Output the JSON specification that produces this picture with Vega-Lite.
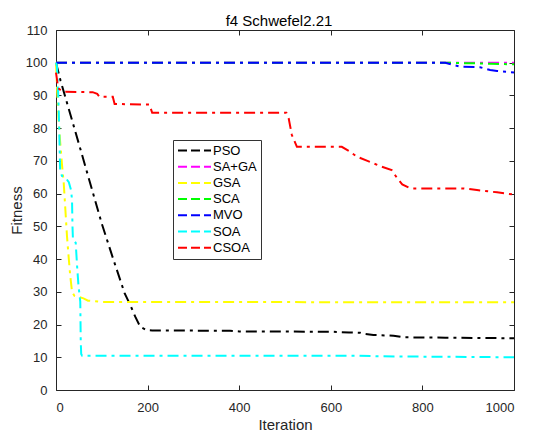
{
  "$schema": "https://vega.github.io/schema/vega-lite/v6.json",
  "width": 458,
  "height": 360,
  "autosize": {"type": "none"},
  "padding": {"left": 56, "top": 30, "right": 20, "bottom": 47},
  "background": "white",
  "title": {
    "text": "f4 Schwefel2.21",
    "font": "Liberation Sans",
    "fontSize": 15,
    "fontWeight": "normal",
    "color": "#000000",
    "anchor": "middle",
    "baseline": "alphabetic",
    "offset": 5,
    "dy": 22,
    "dx": -6
  },
  "data": {
    "values": [
      {"alg": "PSO", "iter": 0, "fit": 100},
      {"alg": "PSO", "iter": 10, "fit": 94.5},
      {"alg": "PSO", "iter": 50, "fit": 75.2},
      {"alg": "PSO", "iter": 100, "fit": 50.8},
      {"alg": "PSO", "iter": 125, "fit": 40},
      {"alg": "PSO", "iter": 150, "fit": 29.5},
      {"alg": "PSO", "iter": 162, "fit": 26},
      {"alg": "PSO", "iter": 173, "fit": 22.4},
      {"alg": "PSO", "iter": 184, "fit": 19.3},
      {"alg": "PSO", "iter": 198, "fit": 18.3},
      {"alg": "PSO", "iter": 210, "fit": 18.2},
      {"alg": "PSO", "iter": 380, "fit": 18.1},
      {"alg": "PSO", "iter": 400, "fit": 17.9},
      {"alg": "PSO", "iter": 600, "fit": 17.8},
      {"alg": "PSO", "iter": 640, "fit": 17.6},
      {"alg": "PSO", "iter": 664, "fit": 17.5},
      {"alg": "PSO", "iter": 675, "fit": 17.1},
      {"alg": "PSO", "iter": 693, "fit": 16.8},
      {"alg": "PSO", "iter": 737, "fit": 16.6},
      {"alg": "PSO", "iter": 759, "fit": 16.1},
      {"alg": "PSO", "iter": 850, "fit": 16.0},
      {"alg": "PSO", "iter": 1000, "fit": 15.8},

      {"alg": "SA+GA", "iter": 0, "fit": 100},
      {"alg": "SA+GA", "iter": 1000, "fit": 100},

      {"alg": "GSA", "iter": 0, "fit": 100},
      {"alg": "GSA", "iter": 3, "fit": 90},
      {"alg": "GSA", "iter": 6, "fit": 82},
      {"alg": "GSA", "iter": 9, "fit": 76},
      {"alg": "GSA", "iter": 13, "fit": 69},
      {"alg": "GSA", "iter": 17, "fit": 63},
      {"alg": "GSA", "iter": 24, "fit": 47},
      {"alg": "GSA", "iter": 28, "fit": 40},
      {"alg": "GSA", "iter": 31, "fit": 35},
      {"alg": "GSA", "iter": 35, "fit": 30},
      {"alg": "GSA", "iter": 40, "fit": 28.8},
      {"alg": "GSA", "iter": 60, "fit": 28},
      {"alg": "GSA", "iter": 70, "fit": 27.3},
      {"alg": "GSA", "iter": 100, "fit": 26.9},
      {"alg": "GSA", "iter": 1000, "fit": 26.8},

      {"alg": "SCA", "iter": 0, "fit": 100},
      {"alg": "SCA", "iter": 850, "fit": 100},
      {"alg": "SCA", "iter": 950, "fit": 99.7},
      {"alg": "SCA", "iter": 1000, "fit": 99.5},

      {"alg": "MVO", "iter": 0, "fit": 100},
      {"alg": "MVO", "iter": 850, "fit": 100},
      {"alg": "MVO", "iter": 870, "fit": 99.2},
      {"alg": "MVO", "iter": 883, "fit": 98.8},
      {"alg": "MVO", "iter": 926, "fit": 98.6},
      {"alg": "MVO", "iter": 948, "fit": 97.8},
      {"alg": "MVO", "iter": 963, "fit": 97.5},
      {"alg": "MVO", "iter": 1000, "fit": 97.0},

      {"alg": "SOA", "iter": 0, "fit": 100},
      {"alg": "SOA", "iter": 2, "fit": 99},
      {"alg": "SOA", "iter": 5, "fit": 90},
      {"alg": "SOA", "iter": 7, "fit": 80},
      {"alg": "SOA", "iter": 9, "fit": 67},
      {"alg": "SOA", "iter": 13, "fit": 65.4},
      {"alg": "SOA", "iter": 20, "fit": 65},
      {"alg": "SOA", "iter": 28, "fit": 63.5},
      {"alg": "SOA", "iter": 33, "fit": 61},
      {"alg": "SOA", "iter": 35, "fit": 58},
      {"alg": "SOA", "iter": 36, "fit": 50},
      {"alg": "SOA", "iter": 37, "fit": 46},
      {"alg": "SOA", "iter": 43, "fit": 45},
      {"alg": "SOA", "iter": 46, "fit": 38},
      {"alg": "SOA", "iter": 49, "fit": 32},
      {"alg": "SOA", "iter": 53, "fit": 27},
      {"alg": "SOA", "iter": 54, "fit": 15},
      {"alg": "SOA", "iter": 55, "fit": 11},
      {"alg": "SOA", "iter": 57, "fit": 10.5},
      {"alg": "SOA", "iter": 660, "fit": 10.5},
      {"alg": "SOA", "iter": 700, "fit": 10.3},
      {"alg": "SOA", "iter": 1000, "fit": 10.0},

      {"alg": "CSOA", "iter": 0, "fit": 97},
      {"alg": "CSOA", "iter": 3, "fit": 94},
      {"alg": "CSOA", "iter": 5, "fit": 92.2},
      {"alg": "CSOA", "iter": 13, "fit": 91.3},
      {"alg": "CSOA", "iter": 20, "fit": 91.1},
      {"alg": "CSOA", "iter": 80, "fit": 91.0},
      {"alg": "CSOA", "iter": 90, "fit": 90.5},
      {"alg": "CSOA", "iter": 95, "fit": 89.6},
      {"alg": "CSOA", "iter": 124, "fit": 89.6},
      {"alg": "CSOA", "iter": 128, "fit": 87.4},
      {"alg": "CSOA", "iter": 204, "fit": 87.2},
      {"alg": "CSOA", "iter": 210, "fit": 84.7},
      {"alg": "CSOA", "iter": 503, "fit": 84.7},
      {"alg": "CSOA", "iter": 508, "fit": 83},
      {"alg": "CSOA", "iter": 515, "fit": 77.9},
      {"alg": "CSOA", "iter": 526, "fit": 74.3},
      {"alg": "CSOA", "iter": 624, "fit": 74.3},
      {"alg": "CSOA", "iter": 640, "fit": 73},
      {"alg": "CSOA", "iter": 657, "fit": 71.3},
      {"alg": "CSOA", "iter": 680, "fit": 70},
      {"alg": "CSOA", "iter": 708, "fit": 68.4},
      {"alg": "CSOA", "iter": 733, "fit": 67.2},
      {"alg": "CSOA", "iter": 745, "fit": 64.7},
      {"alg": "CSOA", "iter": 756, "fit": 62.8},
      {"alg": "CSOA", "iter": 770, "fit": 61.9},
      {"alg": "CSOA", "iter": 780, "fit": 61.6},
      {"alg": "CSOA", "iter": 890, "fit": 61.6},
      {"alg": "CSOA", "iter": 919, "fit": 61.1},
      {"alg": "CSOA", "iter": 963, "fit": 60.4},
      {"alg": "CSOA", "iter": 1000, "fit": 59.7}
    ]
  },
  "layer": [
    {
      "encoding": {
        "x": {
          "field": "iter",
          "type": "quantitative",
          "scale": {"domain": [0, 1000], "nice": false, "zero": false},
          "axis": {
            "title": "Iteration",
            "orient": "bottom",
            "values": [0, 200, 400, 600, 800, 1000],
            "format": "d",
            "tickSize": -5,
            "labelPadding": 16,
            "titlePadding": 3
          }
        },
        "y": {
          "field": "fit",
          "type": "quantitative",
          "scale": {"domain": [0, 110], "nice": false},
          "axis": {
            "title": "Fitness",
            "orient": "left",
            "values": [0, 10, 20, 30, 40, 50, 60, 70, 80, 90, 100, 110],
            "tickSize": -5,
            "labelPadding": 14,
            "titlePadding": 1
          }
        },
        "color": {
          "field": "alg",
          "type": "nominal",
          "scale": {
            "domain": ["PSO", "SA+GA", "GSA", "SCA", "MVO", "SOA", "CSOA"],
            "range": ["#000000", "#ff00ff", "#ffff00", "#00ff00", "#0000ff", "#00ffff", "#ff0000"]
          },
          "legend": {
            "title": null,
            "orient": "none",
            "legendX": 117,
            "legendY": 110,
            "symbolType": "M-1,0H5",
            "symbolSize": 121,
            "symbolStrokeWidth": 2,
            "symbolDash": [9, 4],
            "labelFont": "Liberation Sans",
            "labelFontSize": 13,
            "labelColor": "#000000",
            "labelOffset": 23,
            "rowPadding": 2.2,
            "padding": 4,
            "strokeColor": "#333333",
            "fillColor": "white"
          }
        }
      },
      "layer": [
        {"transform": [{"filter": "datum.alg === 'PSO'"}], "mark": {"type": "line", "strokeWidth": 2, "strokeDash": [11, 5, 3, 5]}},
        {"transform": [{"filter": "datum.alg === 'SA+GA'"}], "mark": {"type": "line", "strokeWidth": 2, "strokeDash": [11, 5, 3, 5]}},
        {"transform": [{"filter": "datum.alg === 'GSA'"}], "mark": {"type": "line", "strokeWidth": 2, "strokeDash": [11, 5, 3, 5]}},
        {"transform": [{"filter": "datum.alg === 'SCA'"}], "mark": {"type": "line", "strokeWidth": 2, "strokeDash": [11, 5, 3, 5]}},
        {"transform": [{"filter": "datum.alg === 'MVO'"}], "mark": {"type": "line", "strokeWidth": 2, "strokeDash": [11, 5, 3, 5]}},
        {"transform": [{"filter": "datum.alg === 'SOA'"}], "mark": {"type": "line", "strokeWidth": 2, "strokeDash": [11, 5, 3, 5]}},
        {"transform": [{"filter": "datum.alg === 'CSOA'"}], "mark": {"type": "line", "strokeWidth": 2, "strokeDash": [11, 5, 3, 5]}}
      ]
    },
    {
      "mark": {"type": "line", "opacity": 0},
      "transform": [{"filter": "datum.alg === 'SA+GA'"}],
      "encoding": {
        "x": {
          "field": "iter",
          "type": "quantitative",
          "scale": {"domain": [0, 1000], "nice": false, "zero": false},
          "axis": {"orient": "top", "title": null, "labels": false, "values": [0, 200, 400, 600, 800, 1000], "tickSize": -5}
        },
        "y": {
          "field": "fit",
          "type": "quantitative",
          "scale": {"domain": [0, 110], "nice": false},
          "axis": {"orient": "right", "title": null, "labels": false, "values": [0, 10, 20, 30, 40, 50, 60, 70, 80, 90, 100, 110], "tickSize": -5}
        }
      }
    }
  ],
  "resolve": {"axis": {"x": "independent", "y": "independent"}},
  "config": {
    "view": {"stroke": null},
    "axis": {
      "grid": false,
      "domainColor": "#262626",
      "domainWidth": 1,
      "tickColor": "#262626",
      "tickWidth": 1,
      "labelColor": "#262626",
      "labelFont": "Liberation Sans",
      "labelFontSize": 13,
      "titleFont": "Liberation Sans",
      "titleFontSize": 15,
      "titleFontWeight": "normal",
      "titleColor": "#262626"
    }
  }
}
